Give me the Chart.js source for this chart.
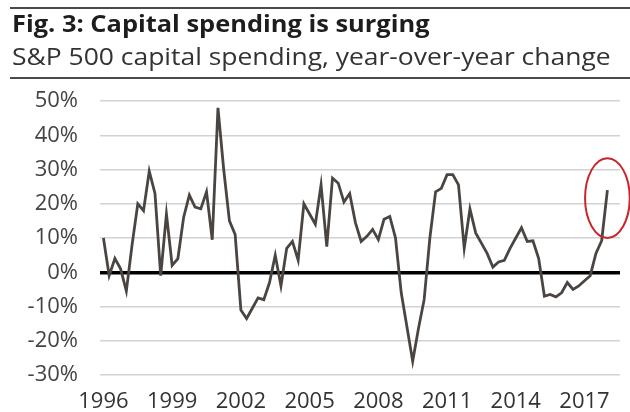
<!DOCTYPE html>
<html>
<head>
<meta charset="utf-8">
<script src="https://cdn.jsdelivr.net/npm/chart.js@4.4.1/dist/chart.umd.min.js"></script>
<style>
html, body { margin:0; padding:0; background:#fff; }
#wrap { position:relative; width:630px; height:412px; overflow:hidden; font-family:"Open Sans", sans-serif; }
#grafik { position:absolute; left:0; top:0; }
.rule { position:absolute; left:10px; right:0; height:2px; background:#4a4a4a; }
.txt { position:absolute; left:12px; line-height:22px; white-space:nowrap; transform-origin:0 50%; }
#title { top:13px; font-size:22.5px; font-weight:bold; color:#1d1d1d; transform:scaleX(1.13); }
#sub { top:45px; font-size:23px; color:#333; transform:scaleX(1.15); }
</style>
</head>
<body>
<div id="wrap">
<canvas id="grafik" width="630" height="412"></canvas>
<div class="rule" style="top:7px"></div>
<div class="txt" id="title">Fig. 3: Capital spending is surging</div>
<div class="txt" id="sub">S&amp;P 500 capital spending, year-over-year change</div>
<div class="rule" style="top:77px"></div>
</div>
<script>
// quarterly, 1996 Q1 .. 2018 Q1, % y/y
const startYear = 1996;
const capex = [
10, -1, 4, 1, -5.5, 8, 20, 18, 29.5, 23,
-1, 17, 2, 4, 16, 22.5, 19, 18.5, 23.5, 9.5,
48, 30, 15, 11, -11, -13.5, -10.5, -7.5, -8, -3,
5, -4, 7, 9, 3.5, 20, 17, 14, 25.5, 7.5,
27.5, 26, 20.5, 23, 14.5, 9, 10.5, 12.5, 9.5, 15.5,
16.3, 10, -6, -16, -26, -16.5, -8, 10, 23.5, 24.5,
28.5, 28.5, 25.5, 7, 18.5, 11.5, 8.5, 5.5, 1.5, 3,
3.5, 7, 10, 13, 9, 9.2, 4, -7, -6.5, -7.2,
-6, -3, -5, -4, -2.5, -1, 5.5, 9.2, 24
];
const tickYears = [1996, 1999, 2002, 2005, 2008, 2011, 2014, 2017];
const yTicks = [-30, -20, -10, 0, 10, 20, 30, 40, 50];
// circled area round the last quarter: value range
const circleLow = 10, circleHigh = 33.3, circleHalfWidth = 3.9;

const points = capex.map((v, i) => ({ x: i, y: v }));

const circlePlugin = {
  id: 'circle',
  afterDraw(chart) {
    const xs = chart.scales.x, ys = chart.scales.y, c = chart.ctx;
    const last = capex.length - 1;
    const cx = xs.getPixelForValue(last);
    const x1 = xs.getPixelForValue(last + circleHalfWidth);
    const yTop = ys.getPixelForValue(circleHigh), yBot = ys.getPixelForValue(circleLow);
    c.save();
    c.strokeStyle = '#c9252c';
    c.lineWidth = 2;
    c.beginPath();
    c.ellipse(cx, (yTop + yBot) / 2, x1 - cx, (yBot - yTop) / 2, 0, 0, Math.PI * 2);
    c.stroke();
    c.restore();
  }
};

const ctx = document.getElementById("grafik");
const chart = new Chart(ctx, {
  type: 'line',
  data: {
    datasets: [{
      label: 'Capex y/y',
      data: points,
      borderColor: '#4b4542',
      borderWidth: 2.8,
      pointRadius: 0,
      tension: 0,
      fill: false
    }]
  },
  options: {
    responsive: false,
    animation: false,
    layout: { padding: { top: 101, right: 10, bottom: 0, left: 0 } },
    plugins: { legend: { display: false }, tooltip: { enabled: false } },
    scales: {
      x: {
        type: 'linear',
        min: -0.6,
        max: 90.2,
        grid: { display: false },
        border: { display: false },
        afterBuildTicks: s => { s.ticks = tickYears.map(y => ({ value: (y - startYear) * 4 })); },
        afterFit: s => { s.height = 37; },
        ticks: {
          autoSkip: false,
          maxRotation: 0,
          padding: 6,
          color: '#333',
          font: { family: 'Open Sans', size: 22 },
          callback: v => String(startYear + v / 4)
        }
      },
      y: {
        min: -30,
        max: 50,
        afterBuildTicks: s => { s.ticks = yTicks.map(v => ({ value: v })); },
        afterFit: s => { s.width = 100; },
        border: { display: false },
        grid: {
          drawTicks: false,
          color: c => c.tick.value === 0 ? '#000' : '#d2d2d2',
          lineWidth: c => c.tick.value === 0 ? 3.5 : 1.5
        },
        ticks: {
          padding: 22,
          color: '#444',
          font: { family: 'Open Sans', size: 22 },
          callback: v => v + '%'
        }
      }
    }
  },
  plugins: [circlePlugin]
});
</script>
</body>
</html>
